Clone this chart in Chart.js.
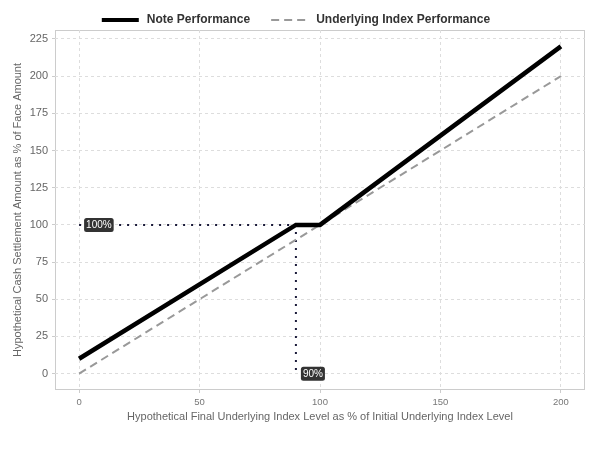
<!DOCTYPE html>
<html lang="en">
<head>
<meta charset="UTF-8">
<title>Note vs Index Performance</title>
<style>
    body { margin: 0; background: #fff; }
    #wrap { width: 600px; height: 450px; }
</style>
</head>
<body>
<div id="wrap"><canvas id="myChart" width="600" height="450"></canvas></div>
<script src="https://cdn.jsdelivr.net/npm/chart.js"></script>
<script>
    // data
    const noteX = [0, 90, 100, 200];
    const noteY = [10, 100, 100, 220];
    const indexX = [0, 200];
    const indexY = [0, 200];
    const guideX = [0, 90, 90];
    const guideY = [100, 100, 0];
    const markerText = ['100%', '90%'];
    const markerX = [0, 90];
    const markerY = [100, 0];
    const xTicks = [0, 50, 100, 150, 200];
    const yTicks = [0, 25, 50, 75, 100, 125, 150, 175, 200, 225];

    const FONT = '"Liberation Sans", Arial, sans-serif';
    const toPts = (xs, ys) => xs.map((x, i) => ({ x: x, y: ys[i] }));

    // box round the plot, the % labels and a ggplot-ish legend on top
    const extras = {
        id: 'extras',
        beforeDraw(chart) {
            const a = chart.chartArea, c = chart.ctx;
            c.save();
            c.strokeStyle = '#cccccc';
            c.lineWidth = 1;
            c.strokeRect(a.left + 0.5, a.top + 0.5, a.right - a.left - 1, a.bottom - a.top - 1);
            c.restore();
        },
        afterDatasetsDraw(chart) {
            const c = chart.ctx;
            const xs = chart.scales.x, ys = chart.scales.y;
            c.save();
            c.font = '10px ' + FONT;
            c.textBaseline = 'middle';
            markerText.forEach((t, i) => {
                const px = xs.getPixelForValue(markerX[i]) + 5;
                const py = ys.getPixelForValue(markerY[i]);
                const w = c.measureText(t).width + 4;
                const h = 14;
                c.fillStyle = '#333333';
                c.beginPath();
                c.roundRect(px, py - h / 2, w, h, 2.5);
                c.fill();
                c.fillStyle = '#ffffff';
                c.fillText(t, px + 2, py + 0.5);
            });
            c.restore();
        },
        afterDraw(chart) {
            const c = chart.ctx;
            const items = chart.data.datasets.filter(d => d.label !== 'guide');
            const keyW = 37, gapKey = 8, gapItem = 21, y = 20;
            c.save();
            c.font = 'bold 12px ' + FONT;
            c.textBaseline = 'middle';
            let total = 0;
            items.forEach((d, i) => {
                total += keyW + gapKey + c.measureText(d.label).width + (i ? gapItem : 0);
            });
            let x = 296 - total / 2;
            items.forEach(d => {
                c.strokeStyle = d.borderColor;
                c.lineWidth = d.legendWidth;
                c.setLineDash(d.borderDash || []);
                c.beginPath();
                c.moveTo(x, y);
                c.lineTo(x + keyW, y);
                c.stroke();
                c.setLineDash([]);
                x += keyW + gapKey;
                c.fillStyle = '#333333';
                c.fillText(d.label, x, y);
                x += c.measureText(d.label).width + gapItem;
            });
            c.restore();
        }
    };

    new Chart(document.getElementById('myChart'), {
        type: 'line',
        data: {
            datasets: [
                {
                    label: 'Note Performance',
                    data: toPts(noteX, noteY),
                    borderColor: '#000000',
                    backgroundColor: '#000000',
                    borderWidth: 4.5,
                    legendWidth: 4,
                    pointRadius: 0,
                    order: 1
                },
                {
                    label: 'Underlying Index Performance',
                    data: toPts(indexX, indexY),
                    borderColor: '#999999',
                    backgroundColor: '#999999',
                    borderWidth: 2,
                    legendWidth: 2,
                    borderDash: [8, 5],
                    pointRadius: 0,
                    order: 2
                },
                {
                    label: 'guide',
                    data: toPts(guideX, guideY),
                    borderColor: '#1b1b3a',
                    borderWidth: 2,
                    borderDash: [2, 6],
                    pointRadius: 0,
                    order: 3
                }
            ]
        },
        options: {
            responsive: false,
            animation: false,
            layout: { padding: { left: 0, right: 15, top: 30, bottom: 24 } },
            plugins: {
                tooltip: { enabled: false },
                legend: { display: false }
            },
            scales: {
                x: {
                    type: 'linear',
                    min: -10,
                    max: 210,
                    afterBuildTicks: s => { s.ticks = xTicks.map(v => ({ value: v })); },
                    afterFit: s => { s.height = 36; },
                    border: { display: false, dash: [3, 3] },
                    grid: { color: '#dddddd', tickColor: '#cccccc', tickLength: 3 },
                    ticks: {
                        color: '#777777',
                        font: { family: FONT, size: 9.5 },
                        padding: 4
                    },
                    title: {
                        display: true,
                        text: 'Hypothetical Final Underlying Index Level as % of Initial Underlying Index Level',
                        color: '#666666',
                        font: { family: FONT, size: 11 },
                        padding: { top: 2, bottom: 2 }
                    }
                },
                y: {
                    type: 'linear',
                    min: -11,
                    max: 231,
                    afterBuildTicks: s => { s.ticks = yTicks.map(v => ({ value: v })); },
                    afterFit: s => { s.width = 55; },
                    border: { display: false, dash: [3, 3] },
                    grid: { color: '#dddddd', tickColor: '#cccccc', tickLength: 3 },
                    ticks: {
                        color: '#666666',
                        font: { family: FONT, size: 11 },
                        padding: 4
                    },
                    title: {
                        display: true,
                        text: 'Hypothetical Cash Settlement Amount as % of Face Amount',
                        color: '#666666',
                        font: { family: FONT, size: 11 },
                        padding: { top: 11, bottom: 0 }
                    }
                }
            }
        },
        plugins: [extras]
    });
</script>
</body>
</html>
